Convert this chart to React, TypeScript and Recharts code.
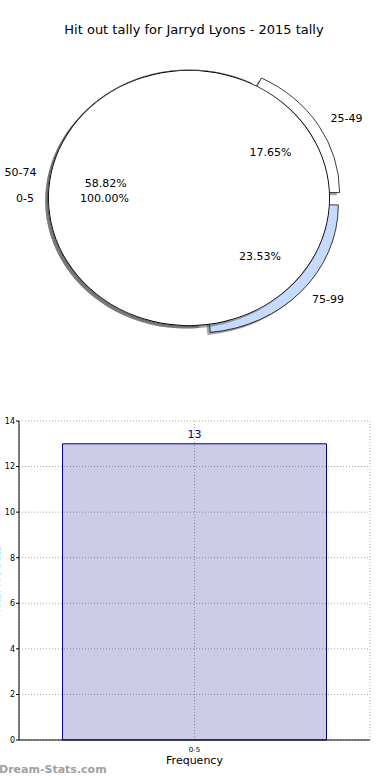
import { PieChart, Pie, Cell, BarChart, Bar, XAxis, YAxis, CartesianGrid, LabelList } from 'recharts';

// pie: the whole-season bin, and the breakdown drawn behind it
const mainBins = ['0-5'];
const mainCounts = [13];
const breakdownBins = ['25-49', '50-74', '75-99'];
const breakdownCounts = [3, 10, 4];
const breakdownColors = ['#ffffff', '#ffffff', '#c6dafc'];
const breakdownExplode = [0.08, 0, 0.08];

// bar chart
const barBins = ['0-5'];
const barGames = [13];
const yTicks = [0, 2, 4, 6, 8, 10, 12, 14];

const CX = 189;
const CY = 198;
const R = 141;
const SY = 128 / 141; // the original pie is squashed into an ellipse
const RAD = Math.PI / 180;
const FONT = '"DejaVu Sans", sans-serif';

const mainData = mainBins.map((name, i) => ({ name, value: mainCounts[i] }));
const breakdownData = breakdownBins.map((name, i) => ({ name, value: breakdownCounts[i] }));
const barData = barBins.map((bin, i) => ({ bin, games: barGames[i] }));

const total = breakdownCounts.reduce((a, b) => a + b, 0);
let acc = 0;
const midAngles = breakdownCounts.map((v) => {
  const a0 = (acc / total) * 360;
  acc += v;
  return (a0 + (acc / total) * 360) / 2;
});
const offsets = midAngles.map((m, i) => ({
  dx: breakdownExplode[i] * R * Math.cos(m * RAD),
  dy: -breakdownExplode[i] * R * Math.sin(m * RAD),
}));

function shade(hex: string) {
  const n = parseInt(hex.slice(1), 16);
  const r = Math.round(((n >> 16) & 255) * 0.3);
  const g = Math.round(((n >> 8) & 255) * 0.3);
  const b = Math.round((n & 255) * 0.3);
  return `rgb(${r},${g},${b})`;
}

function PieText({ x, y, anchor, children }: any) {
  return (
    <text
      transform={`translate(${x},${y}) scale(1,${1 / SY})`}
      textAnchor={anchor}
      dominantBaseline="central"
      fontSize={11}
      fill="#000"
    >
      {children}
    </text>
  );
}

function makeLabel(explode: number[]) {
  return (props: any) => {
    const { cx, cy, midAngle, percent, name, index } = props;
    const d = (explode[index] || 0) * R;
    const c = Math.cos(midAngle * RAD);
    const s = Math.sin(midAngle * RAD);
    const lx = cx + (1.1 * R + d) * c;
    const ly = cy - (1.1 * R + d) * s;
    const px = cx + (0.6 * R + d) * c;
    const py = cy - (0.6 * R + d) * s;
    return (
      <g key={`lbl-${name}`}>
        <PieText x={lx} y={ly} anchor={c >= 0 ? 'start' : 'end'}>{name}</PieText>
        <PieText x={px} y={py} anchor="middle">{`${(percent * 100).toFixed(2)}%`}</PieText>
      </g>
    );
  };
}

function HitOutPie() {
  return (
    <div
      style={{
        position: 'absolute',
        left: 0,
        top: 0,
        width: 390,
        height: 400,
        transform: `scaleY(${SY})`,
        transformOrigin: `${CX}px ${CY}px`,
      }}
    >
      <PieChart width={390} height={400} margin={{ top: 0, right: 0, bottom: 0, left: 0 }}>
        {breakdownData.map((_, i) => (
          <Pie
            key={`shadow-${i}`}
            data={breakdownData}
            dataKey="value"
            cx={CX + offsets[i].dx - 2.8}
            cy={CY + offsets[i].dy + 2.8}
            outerRadius={R}
            isAnimationActive={false}
          >
            {breakdownData.map((e, j) => (
              <Cell key={e.name} fill={j === i ? shade(breakdownColors[j]) : 'none'} fillOpacity={0.5} stroke="none" />
            ))}
          </Pie>
        ))}
        {breakdownData.map((_, i) => (
          <Pie
            key={`slice-${i}`}
            data={breakdownData}
            dataKey="value"
            cx={CX + offsets[i].dx}
            cy={CY + offsets[i].dy}
            outerRadius={R}
            isAnimationActive={false}
          >
            {breakdownData.map((e, j) => (
              <Cell
                key={e.name}
                fill={j === i ? breakdownColors[j] : 'none'}
                stroke={j === i ? '#000' : 'none'}
                strokeWidth={0.8}
              />
            ))}
          </Pie>
        ))}
        <Pie
          data={mainData}
          dataKey="value"
          cx={CX - 2.8}
          cy={CY + 2.8}
          outerRadius={R}
          fill={shade('#ffffff')}
          fillOpacity={0.5}
          stroke="none"
          isAnimationActive={false}
        />
        <Pie
          data={mainData}
          dataKey="value"
          cx={CX}
          cy={CY}
          outerRadius={R}
          fill="#ffffff"
          stroke="none"
          isAnimationActive={false}
        />
        <Pie
          data={mainData}
          dataKey="value"
          cx={CX}
          cy={CY}
          innerRadius={R - 0.9}
          outerRadius={R}
          fill="#000"
          stroke="none"
          label={makeLabel([0])}
          labelLine={false}
          isAnimationActive={false}
        />
        <Pie
          data={breakdownData}
          dataKey="value"
          cx={CX}
          cy={CY}
          outerRadius={R}
          fill="none"
          stroke="none"
          label={makeLabel(breakdownExplode)}
          labelLine={false}
          isAnimationActive={false}
        />
      </PieChart>
    </div>
  );
}

function GamesBar() {
  return (
    <div style={{ position: 'absolute', left: 0, top: 400 }}>
      <BarChart
        width={390}
        height={380}
        data={barData}
        margin={{ top: 21, right: 20, bottom: 10, left: 0 }}
        barCategoryGap="12.4%"
      >
        <CartesianGrid stroke="#aaa" strokeDasharray="1 2" />
        <XAxis
          dataKey="bin"
          height={30}
          tickLine={false}
          tickMargin={1}
          axisLine={{ stroke: '#000' }}
          tick={{ fontSize: 7, fill: '#000' }}
          label={{ value: 'Frequency', position: 'insideBottom', offset: 6, fontSize: 11, fill: '#000' }}
        />
        <XAxis xAxisId="top" orientation="top" dataKey="bin" height={0} tick={false} tickLine={false} axisLine={{ stroke: '#000' }} />
        <YAxis
          domain={[0, 14]}
          ticks={yTicks}
          width={19}
          tickSize={3}
          tickMargin={1}
          axisLine={{ stroke: '#000' }}
          tickLine={{ stroke: '#000' }}
          tick={{ fontSize: 8, fill: '#000' }}
        />
        <YAxis yAxisId="right" orientation="right" domain={[0, 14]} width={0} tick={false} tickLine={false} axisLine={{ stroke: '#000' }} />
        <Bar dataKey="games" fill="#000080" fillOpacity={0.2} stroke="#000080" strokeWidth={1} isAnimationActive={false}>
          <LabelList dataKey="games" position="top" offset={6} fill="#000080" fontSize={11} />
        </Bar>
      </BarChart>
    </div>
  );
}

export default function App() {
  return (
    <div style={{ position: 'absolute', left: 0, top: 0, width: 390, height: 780, background: '#fff', fontFamily: FONT, overflow: 'hidden' }}>
      <HitOutPie />
      <div style={{ position: 'absolute', left: 0, top: 22, width: 388, height: 16, lineHeight: '16px', textAlign: 'center', fontSize: 13, color: '#000' }}>
        Hit out tally for Jarryd Lyons - 2015 tally
      </div>
      <GamesBar />
      {/* y-axis title, mostly cut off by the page edge as in the original */}
      <div
        style={{
          position: 'absolute',
          left: -43,
          top: 574,
          width: 80,
          height: 12,
          lineHeight: '12px',
          fontSize: 10,
          textAlign: 'center',
          transform: 'rotate(-90deg)',
          color: '#000',
          whiteSpace: 'nowrap',
        }}
      >
        Total Hit Outs
      </div>
      <div style={{ position: 'absolute', left: -1, top: 763, fontSize: 11, fontWeight: 'bold', color: '#a0a0a0' }}>
        Dream-Stats.com
      </div>
    </div>
  );
}
